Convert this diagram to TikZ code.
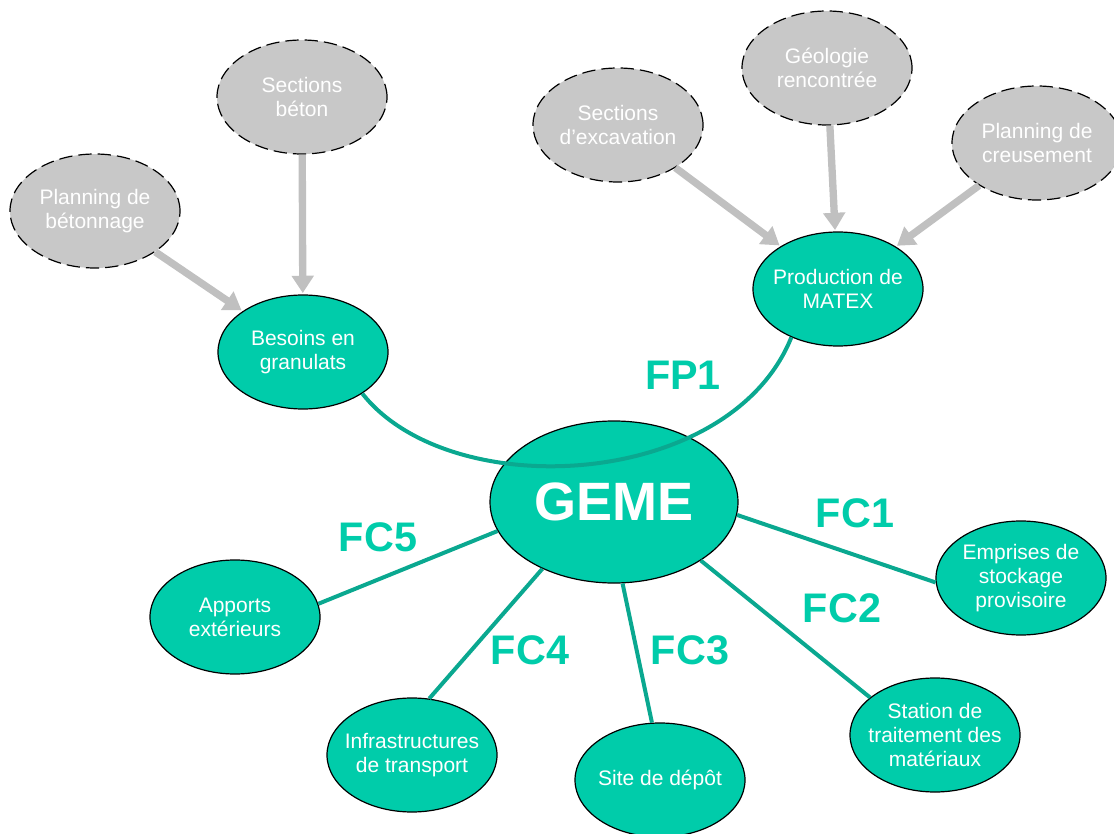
\documentclass[tikz,border=0pt]{standalone}
\usepackage{fontspec}
\setmainfont{Liberation Sans}
\usetikzlibrary{shapes.geometric,arrows.meta}
\definecolor{tealfill}{HTML}{00CCAA}
\definecolor{tealline}{HTML}{0AA890}
\definecolor{grayfill}{HTML}{C8C8C8}
\definecolor{grayarrow}{HTML}{C0C0C0}
\tikzset{
  base/.style={ellipse, minimum width=127.5pt, minimum height=85.5pt, inner xsep=-30pt, inner ysep=-15pt,
    align=center, text=white, font=\fontsize{15.75pt}{18pt}\selectfont},
  tealnode/.style={base, fill=tealfill, draw=black, line width=0.9pt},
  graynode/.style={base, fill=grayfill, draw=black, line width=0.9pt, dash pattern=on 10pt off 4.5pt},
  garrow/.style={draw=grayarrow, line width=5.5pt, -{Triangle[length=13pt, width=16pt]}, shorten >=1pt},
  tline/.style={draw=tealline, line width=3pt},
  flabel/.style={text=tealfill, font=\fontsize{31pt}{36pt}\selectfont\bfseries}
}
\begin{document}
\begin{tikzpicture}[x=0.75pt, y=-0.75pt]
\useasboundingbox (0,0) rectangle (1114,834);
% gray nodes
\node[graynode] (pb) at (95,211) {Planning de\\bétonnage};
\node[graynode] (sb) at (302,97) {Sections\\béton};
\node[graynode] (se) at (618,125) {Sections\\d’excavation};
\node[graynode] (geo) at (827,68) {Géologie\\rencontrée};
\node[graynode] (pc) at (1037,143) {Planning de\\creusement};
% teal nodes
\node[tealnode] (bes) at (303,352) {Besoins en\\granulats};
\node[tealnode] (prod) at (838,289) {Production de\\MATEX};
\node[tealnode] (empr) at (1021,578) {Emprises de\\stockage\\provisoire};
\node[tealnode] (stat) at (935,735) {Station de\\traitement des\\matériaux};
\node[tealnode] (site) at (660,780) {Site de dépôt};
\node[tealnode] (infra) at (412,755) {Infrastructures\\de transport};
\node[tealnode] (app) at (235,617) {Apports\\extérieurs};
\node[ellipse, fill=tealfill, draw=black, line width=0.9pt, minimum width=186pt, minimum height=121.5pt,
  inner sep=0pt, text=white, font=\fontsize{40.5pt}{45pt}\selectfont\bfseries] (geme) at (614,502) {GEME};
% gray arrows
\draw[garrow] (pb) -- (bes);
\draw[garrow] (sb) -- (bes);
\draw[garrow] (se) -- (prod);
\draw[garrow] (geo) -- (prod);
\draw[garrow] (pc) -- (prod);
% teal connectors
\draw[tline] (bes.-35) .. controls (450,505) and (730,490) .. (prod.-134);
\draw[tline] (geme.-6) -- (empr.183);
\draw[tline] (geme.-34) -- (stat.150);
\draw[tline] (geme.-84.5) -- (site.98.6);
\draw[tline] (geme.223.4) -- (infra.73.8);
\draw[tline] (geme.194.4) -- (app.9.9);
% labels
\node[flabel] (fp1) at (683,375) {FP1};
\node[flabel] (fc1) at (855,513) {FC1};
\node[flabel] (fc2) at (842,608) {FC2};
\node[flabel] (fc3) at (690,650) {FC3};
\node[flabel] (fc4) at (530,650) {FC4};
\node[flabel] (fc5) at (378,537) {FC5};
\end{tikzpicture}
\end{document}
